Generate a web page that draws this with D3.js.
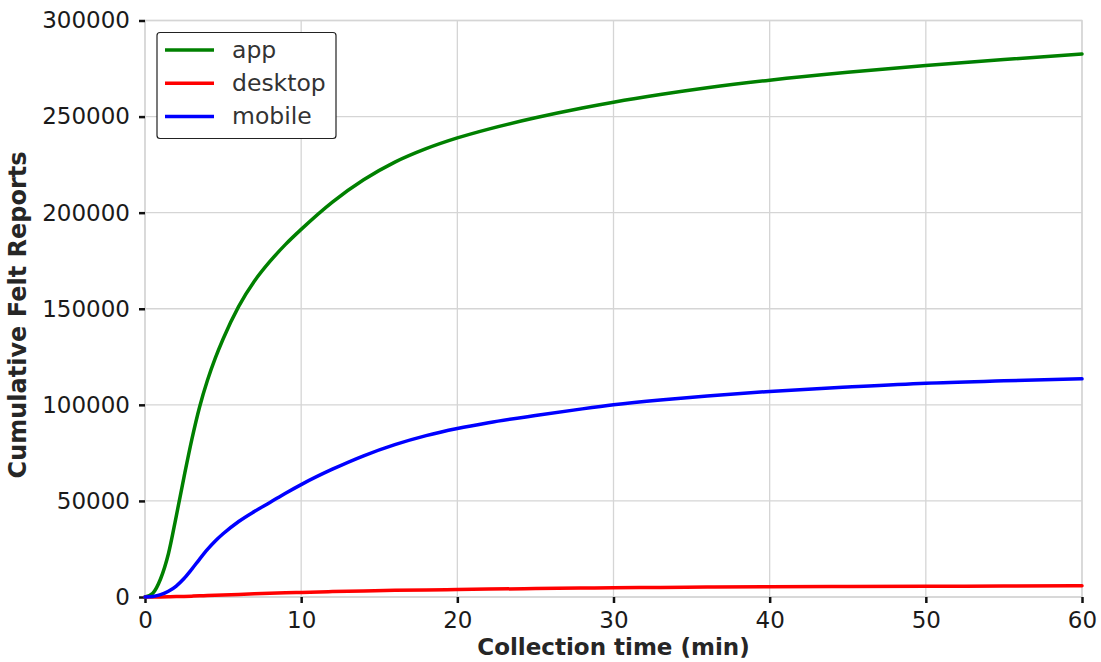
<!DOCTYPE html>
<html>
<head>
<meta charset="utf-8">
<script src="https://cdn.jsdelivr.net/npm/d3@7"></script>
<style>
  html, body { margin: 0; padding: 0; background: #fff; }
  svg text { font-family: "DejaVu Sans", sans-serif; }
</style>
</head>
<body>
<svg id="chart" width="1101" height="662"></svg>
<script>
// Collection time (minutes) at which cumulative counts are sampled
const minutes = [0, 0.5, 1, 1.5, 2, 2.5, 3, 3.5, 4, 4.5, 5, 6, 7, 8, 9, 10, 12, 14, 16, 18, 20, 22, 25, 28, 30, 33, 36, 40, 45, 50, 55, 60];

// Cumulative felt reports per source
const appReports = [0, 2000, 9500, 22500, 42000, 62500, 82000, 99000, 112750, 124250, 134250, 151250, 164300, 174600, 183500, 191300, 205500, 217100, 226300, 233300, 238900, 243500, 249350, 254450, 257450, 261440, 264950, 268950, 273100, 276600, 279700, 282600];
const desktopReports = [0, 10, 50, 110, 200, 310, 450, 600, 750, 900, 1050, 1350, 1650, 1900, 2150, 2400, 2800, 3150, 3450, 3700, 3900, 4100, 4400, 4650, 4800, 5000, 5150, 5300, 5500, 5600, 5700, 5800];
const mobileReports = [0, 300, 1200, 2950, 5700, 9600, 14500, 19750, 24750, 29150, 32900, 39300, 44500, 49200, 54000, 58500, 66500, 73500, 79300, 84000, 87700, 90700, 94450, 97900, 100000, 102550, 104650, 106970, 109270, 111270, 112470, 113520];

const seriesNames = ["app", "desktop", "mobile"];
const seriesColors = ["green", "red", "blue"];
const seriesValues = [appReports, desktopReports, mobileReports];

const xTicks = [0, 10, 20, 30, 40, 50, 60];
const yTicks = [0, 50000, 100000, 150000, 200000, 250000, 300000];

const xLabel = "Collection time (min)";
const yLabel = "Cumulative Felt Reports";

const svg = d3.select("#chart");
const plot = { left: 145, right: 1082, top: 20.5, bottom: 597 };

const x = d3.scaleLinear().domain([0, 60]).range([plot.left, plot.right]);
const y = d3.scaleLinear().domain([0, 300000]).range([plot.bottom, plot.top]);

// Grid
const grid = svg.append("g");
grid.selectAll("line.gx").data(xTicks).join("line")
  .attr("x1", d => x(d)).attr("x2", d => x(d))
  .attr("y1", plot.top).attr("y2", plot.bottom)
  .attr("stroke", "#d5d5d5").attr("stroke-width", 1.3);
grid.selectAll("line.gy").data(yTicks).join("line")
  .attr("x1", plot.left).attr("x2", plot.right)
  .attr("y1", d => y(d)).attr("y2", d => y(d))
  .attr("stroke", "#d5d5d5").attr("stroke-width", 1.3);

// Frame
svg.append("rect")
  .attr("x", plot.left).attr("y", plot.top)
  .attr("width", plot.right - plot.left).attr("height", plot.bottom - plot.top)
  .attr("fill", "none").attr("stroke", "#d5d5d5").attr("stroke-width", 1.3);

// Axes
const xAxis = d3.axisBottom(x).tickValues(xTicks).tickFormat(d3.format("d"))
  .tickSize(6).tickPadding(9);
const yAxis = d3.axisLeft(y).tickValues(yTicks).tickFormat(d3.format("d"))
  .tickSize(6).tickPadding(9);

const gx = svg.append("g").attr("transform", `translate(0,${plot.bottom})`).call(xAxis);
const gy = svg.append("g").attr("transform", `translate(${plot.left},0)`).call(yAxis);
[gx, gy].forEach(g => {
  g.select(".domain").remove();
  g.selectAll(".tick line").attr("stroke", "#111").attr("stroke-width", 2.5);
  g.selectAll(".tick text")
    .attr("fill", "#1a1a1a")
    .style("font-family", "DejaVu Sans, sans-serif")
    .style("font-size", "23px");
});

// Series lines
const line = d3.line()
  .x((d, i) => x(minutes[i]))
  .y(d => y(d))
  .curve(d3.curveMonotoneX);

const lines = svg.append("g");
seriesValues.forEach((vals, k) => {
  lines.append("path")
    .datum(vals)
    .attr("d", line)
    .attr("fill", "none")
    .attr("stroke", seriesColors[k])
    .attr("stroke-width", 3.5)
    .attr("stroke-linejoin", "round")
    .attr("stroke-linecap", "round");
});

// Axis titles
svg.append("text")
  .attr("x", (plot.left + plot.right) / 2)
  .attr("y", 655)
  .attr("text-anchor", "middle")
  .attr("fill", "#262626")
  .style("font-size", "23px")
  .style("font-weight", "bold")
  .text(xLabel);

svg.append("text")
  .attr("transform", "translate(26,315) rotate(-90)")
  .attr("text-anchor", "middle")
  .attr("fill", "#262626")
  .style("font-size", "24px")
  .style("font-weight", "bold")
  .text(yLabel);

// Legend
const legend = svg.append("g");
legend.append("rect")
  .attr("x", 157).attr("y", 32.5)
  .attr("width", 179).attr("height", 106)
  .attr("rx", 3).attr("ry", 3)
  .attr("fill", "#fff").attr("stroke", "#222").attr("stroke-width", 1.2);

seriesNames.forEach((name, k) => {
  const ly = 50 + k * 33.3;
  legend.append("line")
    .attr("x1", 165).attr("x2", 214)
    .attr("y1", ly).attr("y2", ly)
    .attr("stroke", seriesColors[k]).attr("stroke-width", 3.5);
  legend.append("text")
    .attr("x", 232).attr("y", ly)
    .attr("dy", "0.33em")
    .attr("fill", "#333")
    .style("font-size", "23.5px")
    .text(name);
});
</script>
</body>
</html>
